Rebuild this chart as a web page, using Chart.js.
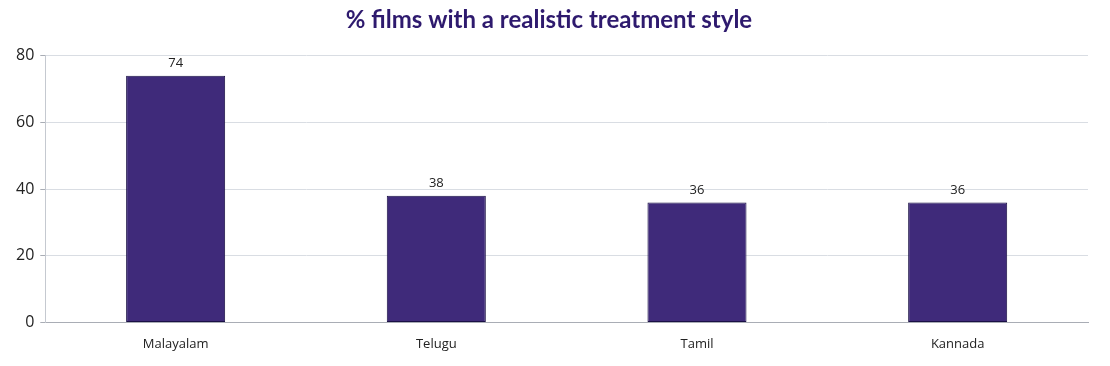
<!DOCTYPE html>
<html><head><meta charset="utf-8">
<script src="https://cdn.jsdelivr.net/npm/chart.js@4/dist/chart.umd.min.js"></script>
<style>html,body{margin:0;padding:0;background:#fff}#wrap{width:1110px;height:366px;position:relative}</style>
</head><body><div id="wrap"><canvas id="c"></canvas></div>
<script>
const categories = ["Malayalam", "Telugu", "Tamil", "Kannada"];
const values = [74, 38, 36, 36];
const yTicks = [0, 20, 40, 60, 80];
const titleText = "% films with a realistic treatment style";

const labelPlugin = {
  id: 'labels',
  afterDatasetsDraw(chart) {
    const ctx = chart.ctx;
    const meta = chart.getDatasetMeta(0);
    ctx.save();
    ctx.font = '13px "Open Sans", sans-serif';
    ctx.fillStyle = '#222';
    ctx.textAlign = 'center';
    ctx.textBaseline = 'bottom';
    meta.data.forEach((bar, i) => {
      ctx.fillText(String(values[i]), bar.x, bar.y - 6);
    });
    ctx.restore();
  }
};

new Chart(document.getElementById('c'), {
  type: 'bar',
  data: {
    labels: categories,
    datasets: [{
      data: values,
      backgroundColor: '#3f2a7a',
      borderColor: '#1a1045',
      borderWidth: 1,
      borderSkipped: false,
      categoryPercentage: 1,
      barPercentage: 0.38
    }]
  },
  options: {
    responsive: true,
    maintainAspectRatio: false,
    animation: false,
    layout: { padding: { left: 10, right: 22, top: 0, bottom: 0 } },
    plugins: {
      legend: { display: false },
      tooltip: { enabled: false },
      title: {
        display: true,
        text: titleText,
        color: '#2e1a6e',
        font: { family: 'Lato, "Open Sans", sans-serif', size: 24, weight: 'bold' },
        padding: { top: 6, bottom: 21 }
      }
    },
    scales: {
      x: {
        grid: { display: false, drawTicks: false },
        border: { color: '#a9adb5', width: 1 },
        ticks: { color: '#222', font: { family: '"Open Sans", sans-serif', size: 13 }, padding: 14 }
      },
      y: {
        min: 0, max: 80,
        afterBuildTicks(axis) { axis.ticks = yTicks.map(v => ({ value: v })); },
        grid: { color: '#d9dde3', drawTicks: true, tickLength: 5, tickColor: '#a9adb5' },
        border: { color: '#c5c9d0', width: 1 },
        ticks: { color: '#222', font: { family: '"Open Sans", sans-serif', size: 16 }, padding: 6 }
      }
    }
  },
  plugins: [labelPlugin]
});
</script></body></html>
